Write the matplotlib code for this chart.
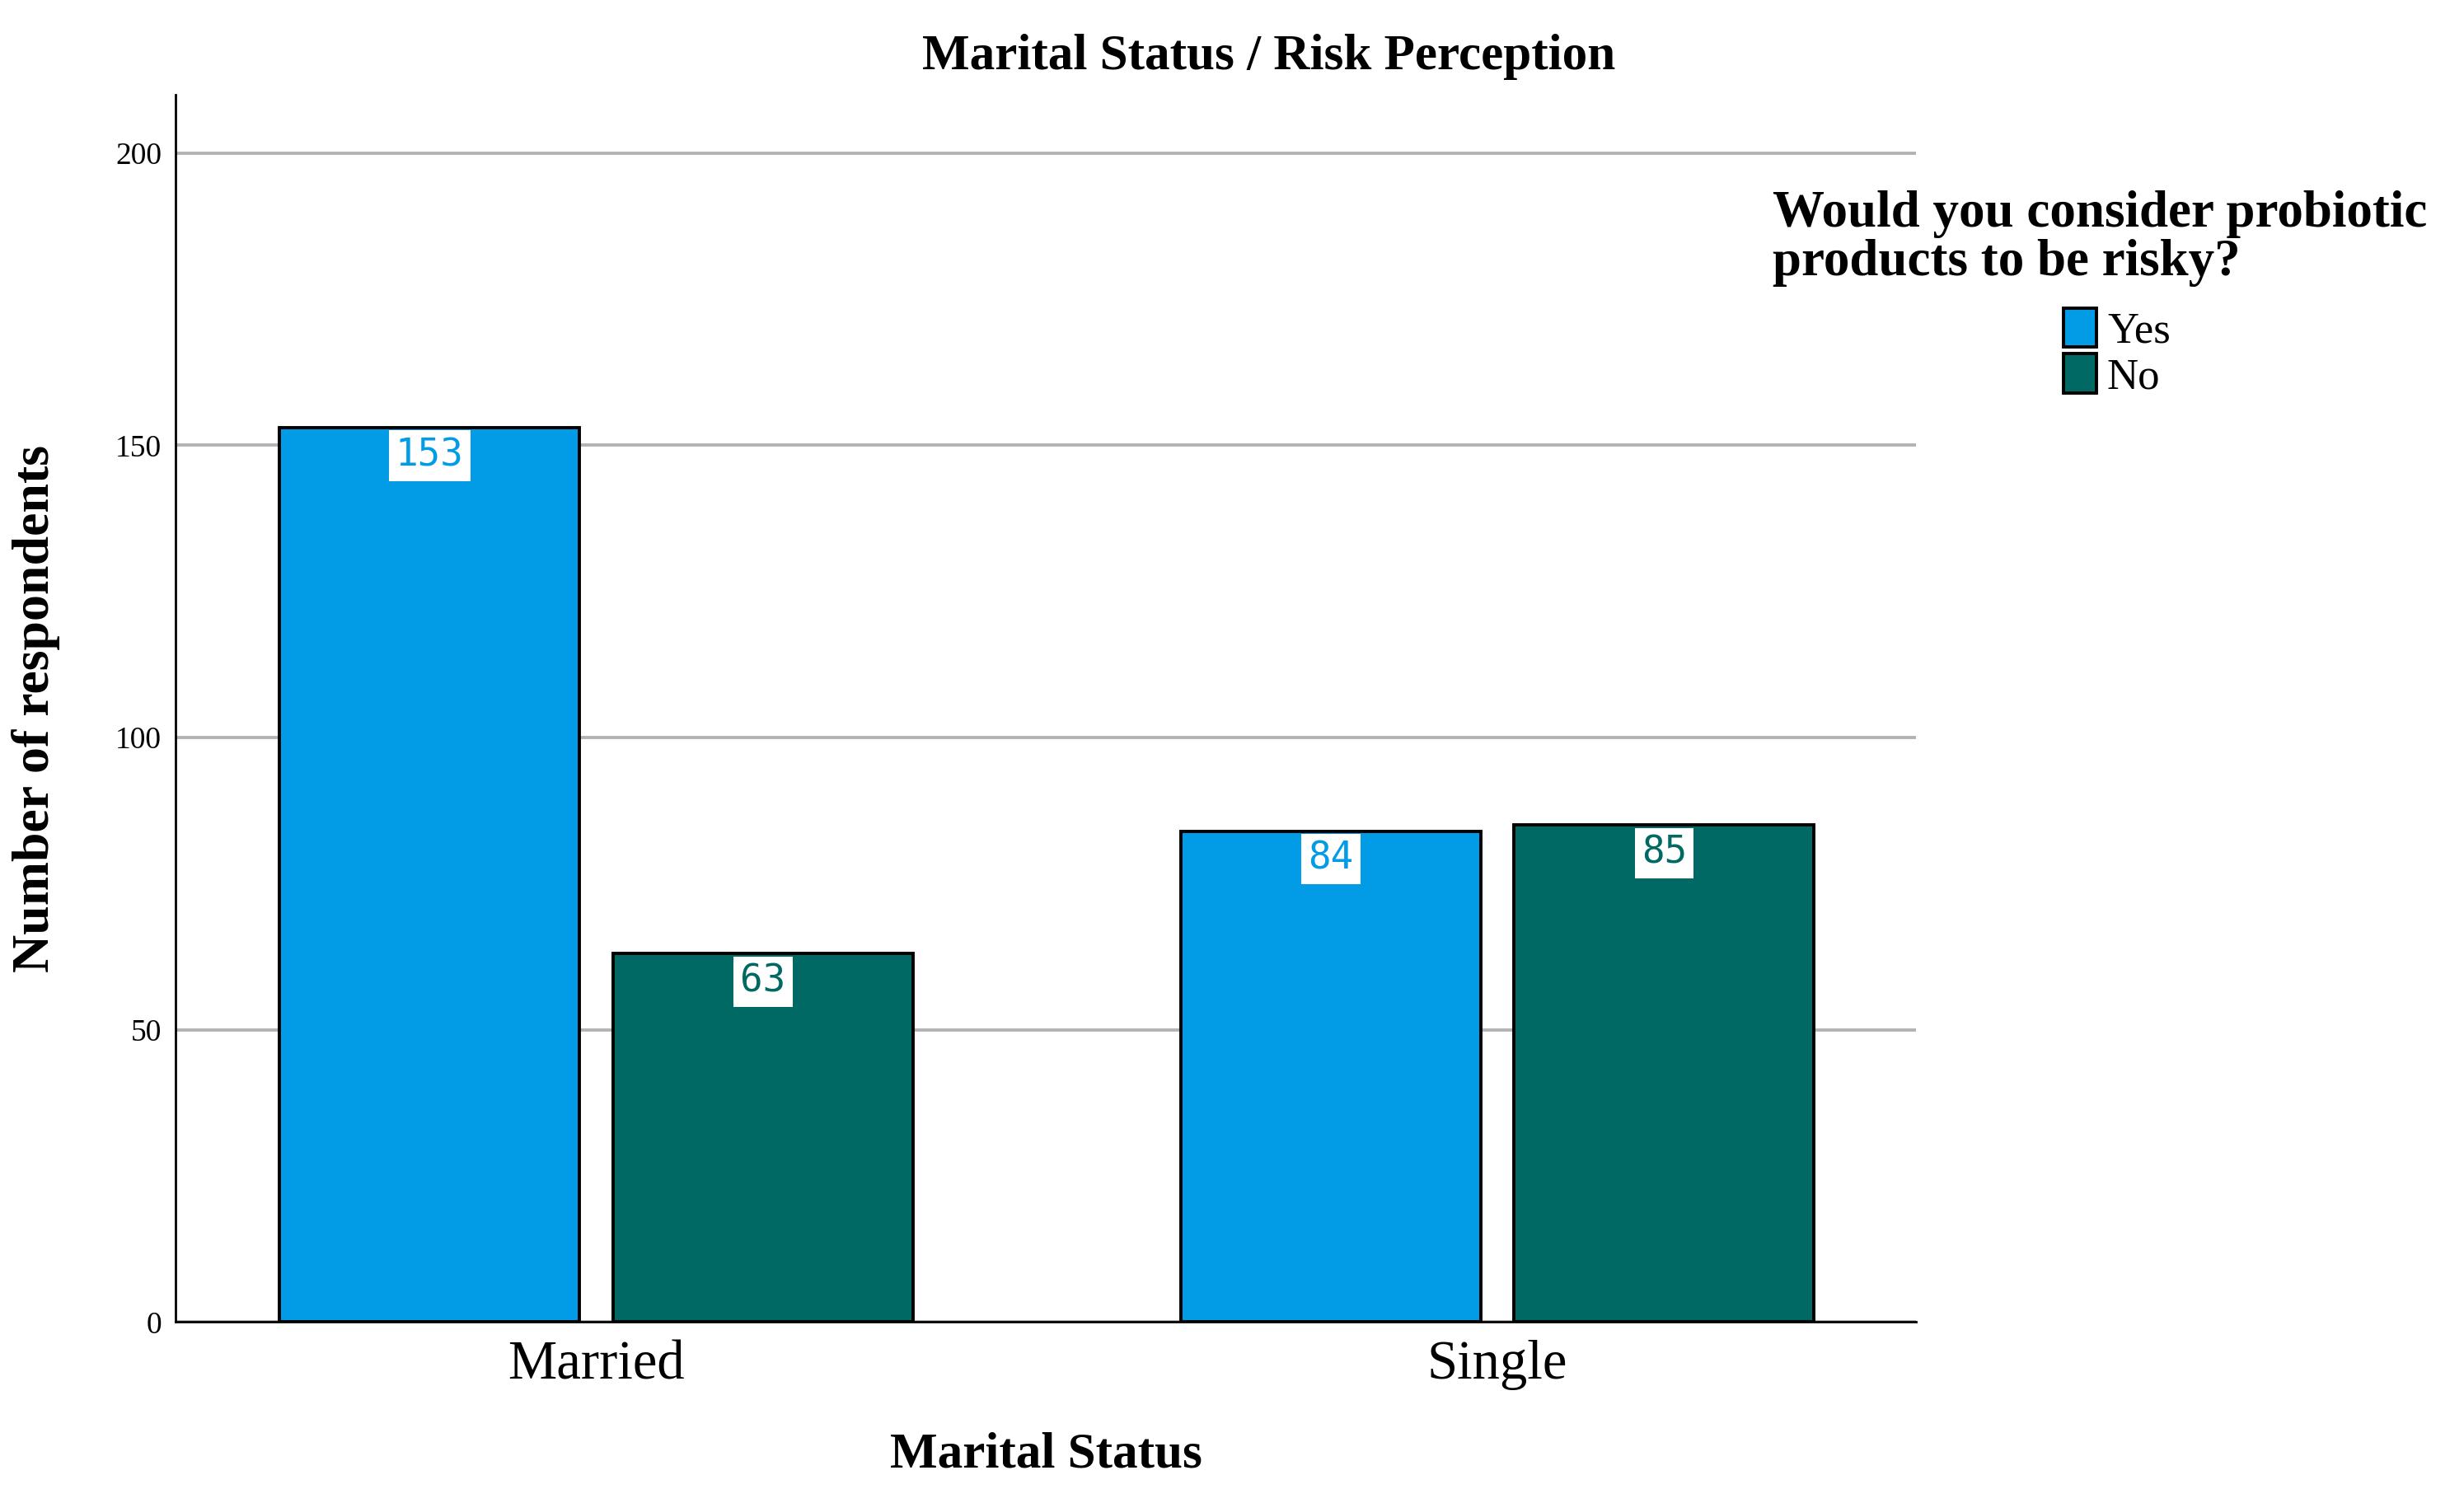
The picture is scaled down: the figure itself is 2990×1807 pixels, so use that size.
import matplotlib
matplotlib.use("Agg")
import matplotlib.pyplot as plt
import numpy as np
from matplotlib.patches import Patch

categories = ["Married", "Single"]
series_names = ["Yes", "No"]
yes_values = [153, 84]
no_values = [63, 85]
yticks = [0, 50, 100, 150, 200]
colors = ["#029be6", "#006964"]

SERIF = ["Liberation Serif", "DejaVu Serif"]
plt.rcParams['font.family'] = SERIF

fig = plt.figure(figsize=(14.95, 9.035), dpi=200)
ax = fig.add_axes([0.0712, 0.1122, 0.7064, 0.8242])

x = np.arange(len(categories))
w = 0.333
off = 0.185
series = [yes_values, no_values]
for i, (name, vals) in enumerate(zip(series_names, series)):
    pos = x + (-off if i == 0 else off)
    ax.bar(pos, vals, width=w, color=colors[i], edgecolor="black",
           linewidth=1.4, zorder=3, label=name)
    for xp, v in zip(pos, vals):
        ax.text(xp, v - 1.6, str(v), ha="center", va="top", color=colors[i],
                family="DejaVu Sans Mono", fontsize=16.5, zorder=4,
                bbox=dict(boxstyle="square,pad=0.18", fc="white", ec="none"))

ax.set_xlim(-0.467, 1.4645)
ax.set_ylim(0, 210)
ax.set_yticks(yticks)
ax.set_yticklabels([str(t) for t in yticks], fontsize=13.5)
ax.set_xticks(x)
ax.set_xticklabels(categories, fontsize=24)
ax.tick_params(axis="both", length=0, pad=6)
ax.tick_params(axis="x", pad=8)
ax.yaxis.grid(True, color="#b3b3b3", linewidth=1.4, zorder=0)
ax.set_axisbelow(True)
for s in ["top", "right"]:
    ax.spines[s].set_visible(False)
ax.spines["left"].set_linewidth(1.0)
ax.spines["bottom"].set_linewidth(1.0)

ax.set_xlabel("Marital Status", fontsize=22, fontweight="bold", labelpad=18)
ax.set_ylabel("Number of respondents", fontsize=23, fontweight="bold", labelpad=24)

fig.text(0.515, 0.962, "Marital Status / Risk Perception", ha="center", va="center",
         fontsize=22, fontweight="bold")

fig.text(0.7195, 0.872, "Would you consider probiotic\nproducts to be risky?",
         ha="left", va="top", fontsize=22.7, fontweight="bold", linespacing=1.02)

handles = [Patch(facecolor=colors[i], edgecolor="black", linewidth=1.4, label=series_names[i])
           for i in range(2)]
fig.legend(handles=handles, loc="upper left", bbox_to_anchor=(0.8375, 0.793),
           frameon=False, fontsize=19, handlelength=0.75, handleheight=1.0,
           handletextpad=0.25, labelspacing=0.05, borderaxespad=0, borderpad=0)

fig.savefig("out.png", dpi=200)
